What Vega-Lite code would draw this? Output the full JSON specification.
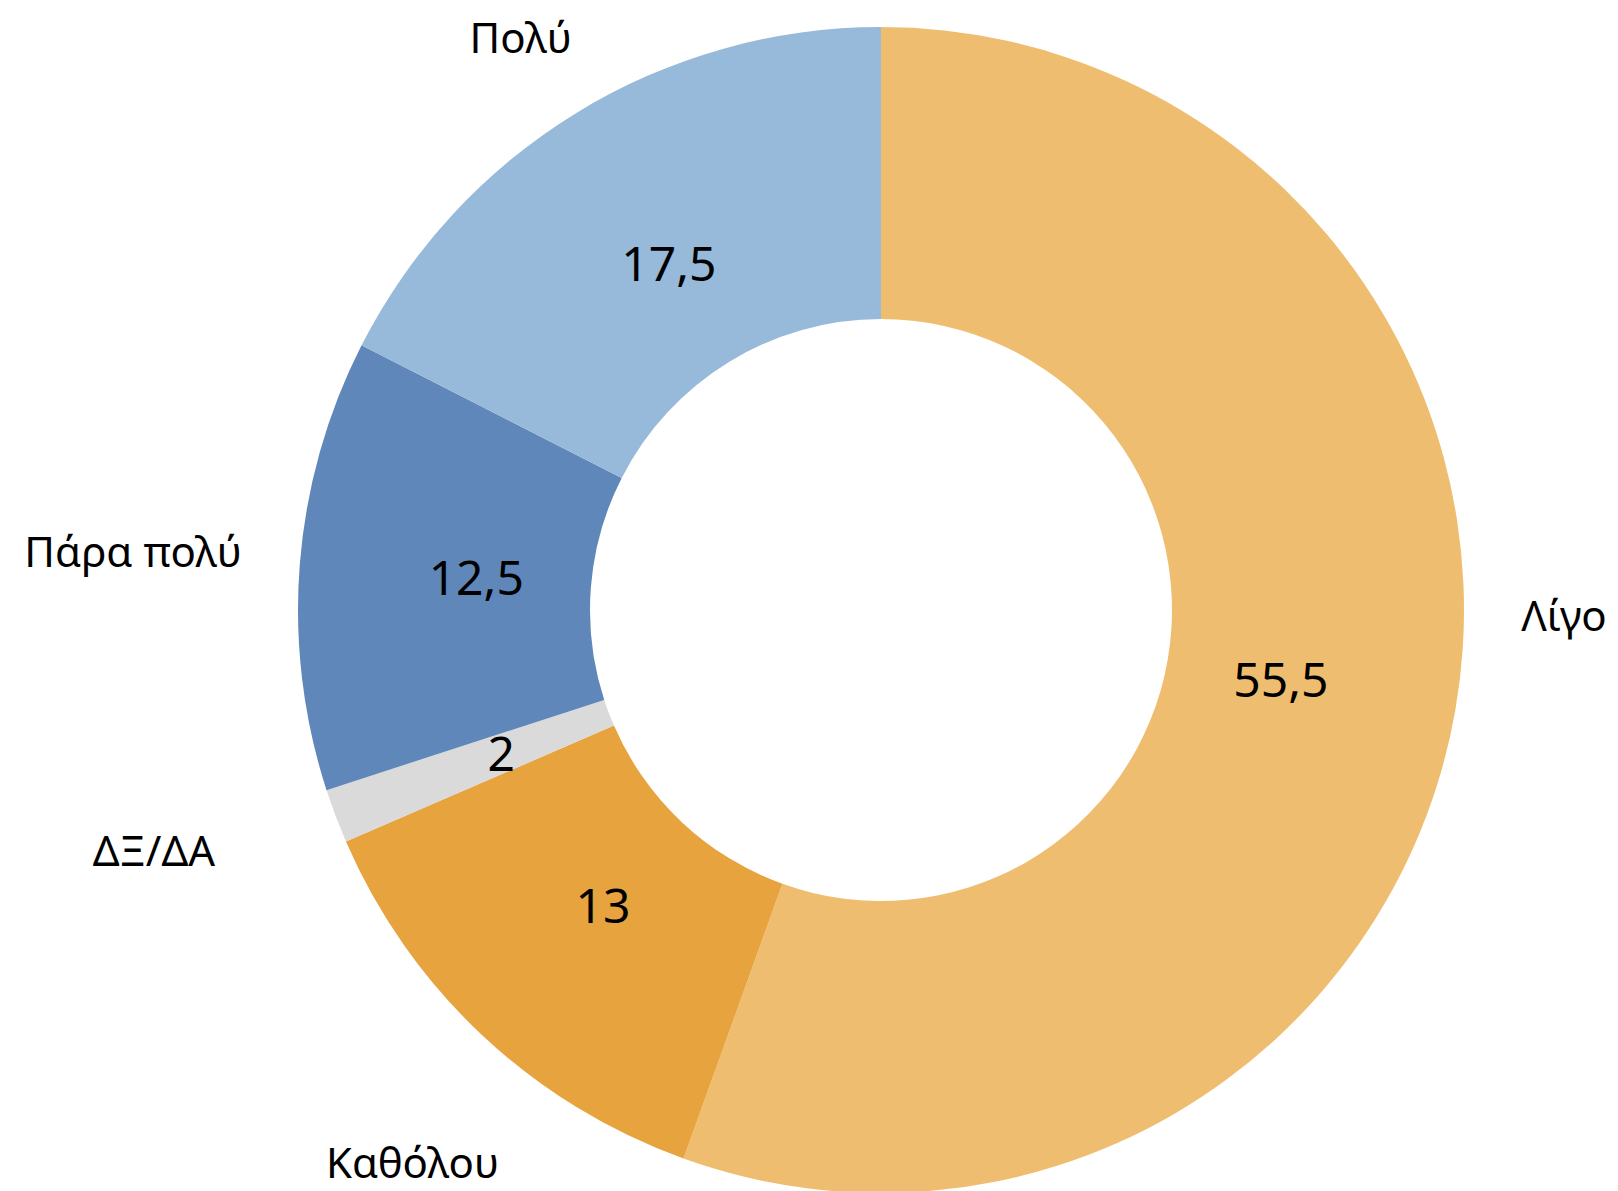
{
  "$schema": "https://vega.github.io/schema/vega-lite/v6.json",
  "width": 1474,
  "height": 1162,
  "autosize": {"type": "none"},
  "padding": {"left": 144, "top": 29, "right": 0, "bottom": 0},
  "background": "white",
  "config": {
    "view": {"stroke": null},
    "text": {"font": "Noto Sans", "color": "#000000"}
  },
  "data": {
    "values": [
      {"cat": "Λίγο", "value": 55.5, "label": "55,5", "ord": 1},
      {"cat": "Καθόλου", "value": 13, "label": "13", "ord": 2},
      {"cat": "ΔΞ/ΔΑ", "value": 1.5, "label": "2", "ord": 3},
      {"cat": "Πάρα πολύ", "value": 12.5, "label": "12,5", "ord": 4},
      {"cat": "Πολύ", "value": 17.5, "label": "17,5", "ord": 5}
    ]
  },
  "encoding": {
    "theta": {"field": "value", "type": "quantitative", "stack": true},
    "order": {"field": "ord", "type": "quantitative"}
  },
  "layer": [
    {
      "mark": {"type": "arc", "outerRadius": 583, "innerRadius": 291},
      "encoding": {
        "color": {
          "field": "cat",
          "type": "nominal",
          "scale": {
            "domain": ["Λίγο", "Καθόλου", "ΔΞ/ΔΑ", "Πάρα πολύ", "Πολύ"],
            "range": ["#EFBD6F", "#E7A33E", "#DADADA", "#5F87B9", "#97B9DA"]
          },
          "legend": null
        }
      }
    },
    {
      "mark": {"type": "text", "radius": 406, "fontSize": 48, "dy": 3, "align": "center", "baseline": "middle"},
      "encoding": {"text": {"field": "label"}}
    },
    {
      "mark": {"type": "text", "radius": 680, "fontSize": 42, "dx": 13, "dy": -109, "align": "center", "baseline": "middle"},
      "encoding": {"text": {"condition": {"test": "datum.cat === 'Λίγο'", "field": "cat"}, "value": ""}}
    },
    {
      "mark": {"type": "text", "radius": 680, "fontSize": 42, "dx": -3, "dy": 59, "align": "center", "baseline": "middle"},
      "encoding": {"text": {"condition": {"test": "datum.cat === 'Καθόλου'", "field": "cat"}, "value": ""}}
    },
    {
      "mark": {"type": "text", "radius": 680, "fontSize": 42, "dx": -91, "dy": 3, "align": "center", "baseline": "middle"},
      "encoding": {"text": {"condition": {"test": "datum.cat === 'ΔΞ/ΔΑ'", "field": "cat"}, "value": ""}}
    },
    {
      "mark": {"type": "text", "radius": 680, "fontSize": 42, "dx": -70, "dy": -3, "align": "center", "baseline": "middle"},
      "encoding": {"text": {"condition": {"test": "datum.cat === 'Πάρα πολύ'", "field": "cat"}, "value": ""}}
    },
    {
      "mark": {"type": "text", "radius": 680, "fontSize": 42, "dx": -5, "dy": 10, "align": "center", "baseline": "middle"},
      "encoding": {"text": {"condition": {"test": "datum.cat === 'Πολύ'", "field": "cat"}, "value": ""}}
    }
  ]
}
